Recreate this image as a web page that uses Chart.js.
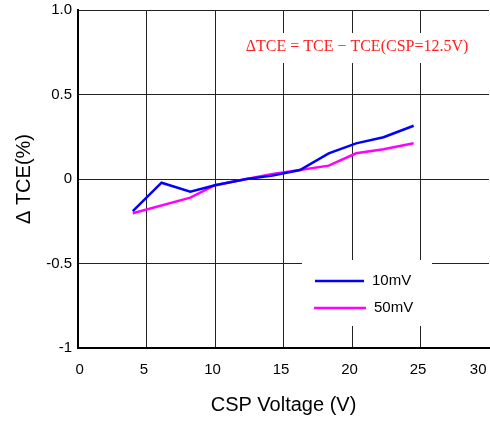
<!DOCTYPE html>
<html>
<head>
<meta charset="utf-8">
<script src="https://cdn.jsdelivr.net/npm/chart.js@4.4.0/dist/chart.umd.min.js"></script>
<style>
html,body{margin:0;padding:0;background:#fff;}
#wrap{width:490px;height:421px;}
</style>
</head>
<body>
<div id="wrap"><canvas id="c" width="490" height="421"></canvas></div>
<script>
const seriesNames = ['10mV', '50mV'];
const seriesColors = ['#0000ff', '#ff00ff'];
const x10 = [4, 6.1, 8.2, 10, 12.3, 14.2, 16.2, 18.3, 20.3, 22.3, 24.5];
const y10 = [-0.19, -0.022, -0.075, -0.037, 0, 0.02, 0.053, 0.152, 0.211, 0.247, 0.315];
const x50 = [4, 8.2, 10, 12.3, 14.2, 16.2, 18.3, 20.3, 22.3, 24.5];
const y50 = [-0.203, -0.11, -0.037, 0, 0.03, 0.053, 0.079, 0.152, 0.176, 0.211];
const yTickValues = [-1, -0.5, 0, 0.5, 1];
const yTickLabels = ['-1', '-0.5', '0', '0.5', '1.0'];
const xTitle = 'CSP Voltage (V)';
const yTitle = 'Δ TCE(%)';
const noteText = 'ΔTCE = TCE − TCE(CSP=12.5V)';

function pts(xs, ys) { return xs.map((x, i) => ({x: x, y: ys[i]})); }

const notePlugin = {
  id: 'note',
  beforeDatasetsDraw(chart) {
    const ctx = chart.ctx;
    ctx.save();
    ctx.fillStyle = '#fff';
    ctx.fillRect(240, 33, 232, 30);
    ctx.fillRect(302, 260, 130, 66);
    ctx.font = '16px "Liberation Serif", "Times New Roman", serif';
    ctx.fillStyle = '#ff2020';
    ctx.textAlign = 'center';
    ctx.textBaseline = 'middle';
    ctx.fillText(noteText, 357, 47);
    ctx.restore();
  },
  afterDatasetsDraw(chart) {
    const ctx = chart.ctx;
    ctx.save();
    ctx.font = '15px "Liberation Sans", Arial, sans-serif';
    ctx.textBaseline = 'middle';
    ctx.textAlign = 'left';
    chart.data.datasets.forEach((ds, i) => {
      const y = 281 + i * 27;
      ctx.strokeStyle = ds.borderColor;
      ctx.lineWidth = 2.5;
      ctx.beginPath();
      ctx.moveTo(315 - i, y);
      ctx.lineTo(364 + i * 2, y);
      ctx.stroke();
      ctx.fillStyle = '#000';
      ctx.fillText(ds.label, 372 + i * 2, y);
    });
    ctx.restore();
  }
};

new Chart(document.getElementById('c'), {
  type: 'line',
  data: {
    datasets: [
      {label: seriesNames[0], data: pts(x10, y10), borderColor: seriesColors[0], borderWidth: 2.5, pointRadius: 0, tension: 0, fill: false},
      {label: seriesNames[1], data: pts(x50, y50), borderColor: seriesColors[1], borderWidth: 2.5, pointRadius: 0, tension: 0, fill: false}
    ]
  },
  options: {
    responsive: false,
    animation: false,
    layout: {padding: {left: 0, right: 1, top: 10, bottom: 0}},
    plugins: {legend: {display: false}, tooltip: {enabled: false}},
    scales: {
      x: {
        type: 'linear', min: 0, max: 30,
        ticks: {stepSize: 5, padding: 13, align: 'inner', labelOffset: -2.5, color: '#000', font: {family: '"Liberation Sans", Arial, sans-serif', size: 15}},
        grid: {drawTicks: false, color: (c) => (c.tick && (c.tick.value === 0 || c.tick.value === 30)) ? 'rgba(0,0,0,0)' : '#222', lineWidth: 1},
        border: {display: true, color: '#000', width: 2},
        title: {display: true, text: xTitle, color: '#000', padding: {top: 0, bottom: 4}, font: {family: '"Liberation Sans", Arial, sans-serif', size: 20}},
        afterFit(s) { s.height = 73; s.paddingLeft = 0; s.paddingRight = 0; }
      },
      y: {
        min: -1, max: 1,
        afterBuildTicks(s) { s.ticks = yTickValues.map(v => ({value: v})); },
        ticks: {padding: 6, color: '#000', font: {family: '"Liberation Sans", Arial, sans-serif', size: 15},
          callback: (v) => { const i = yTickValues.indexOf(v); return i >= 0 ? yTickLabels[i] : ''; }},
        grid: {drawTicks: false, color: (c) => (c.tick && c.tick.value === -1) ? 'rgba(0,0,0,0)' : '#222', lineWidth: 1},
        border: {display: true, color: '#000', width: 2},
        title: {display: true, text: yTitle, color: '#000', padding: {top: 12, bottom: 0}, font: {family: '"Liberation Sans", Arial, sans-serif', size: 20}},
        afterFit(s) { s.width = 78; s.paddingTop = 0; s.paddingBottom = 0; }
      }
    }
  },
  plugins: [notePlugin]
});
</script>
</body>
</html>
